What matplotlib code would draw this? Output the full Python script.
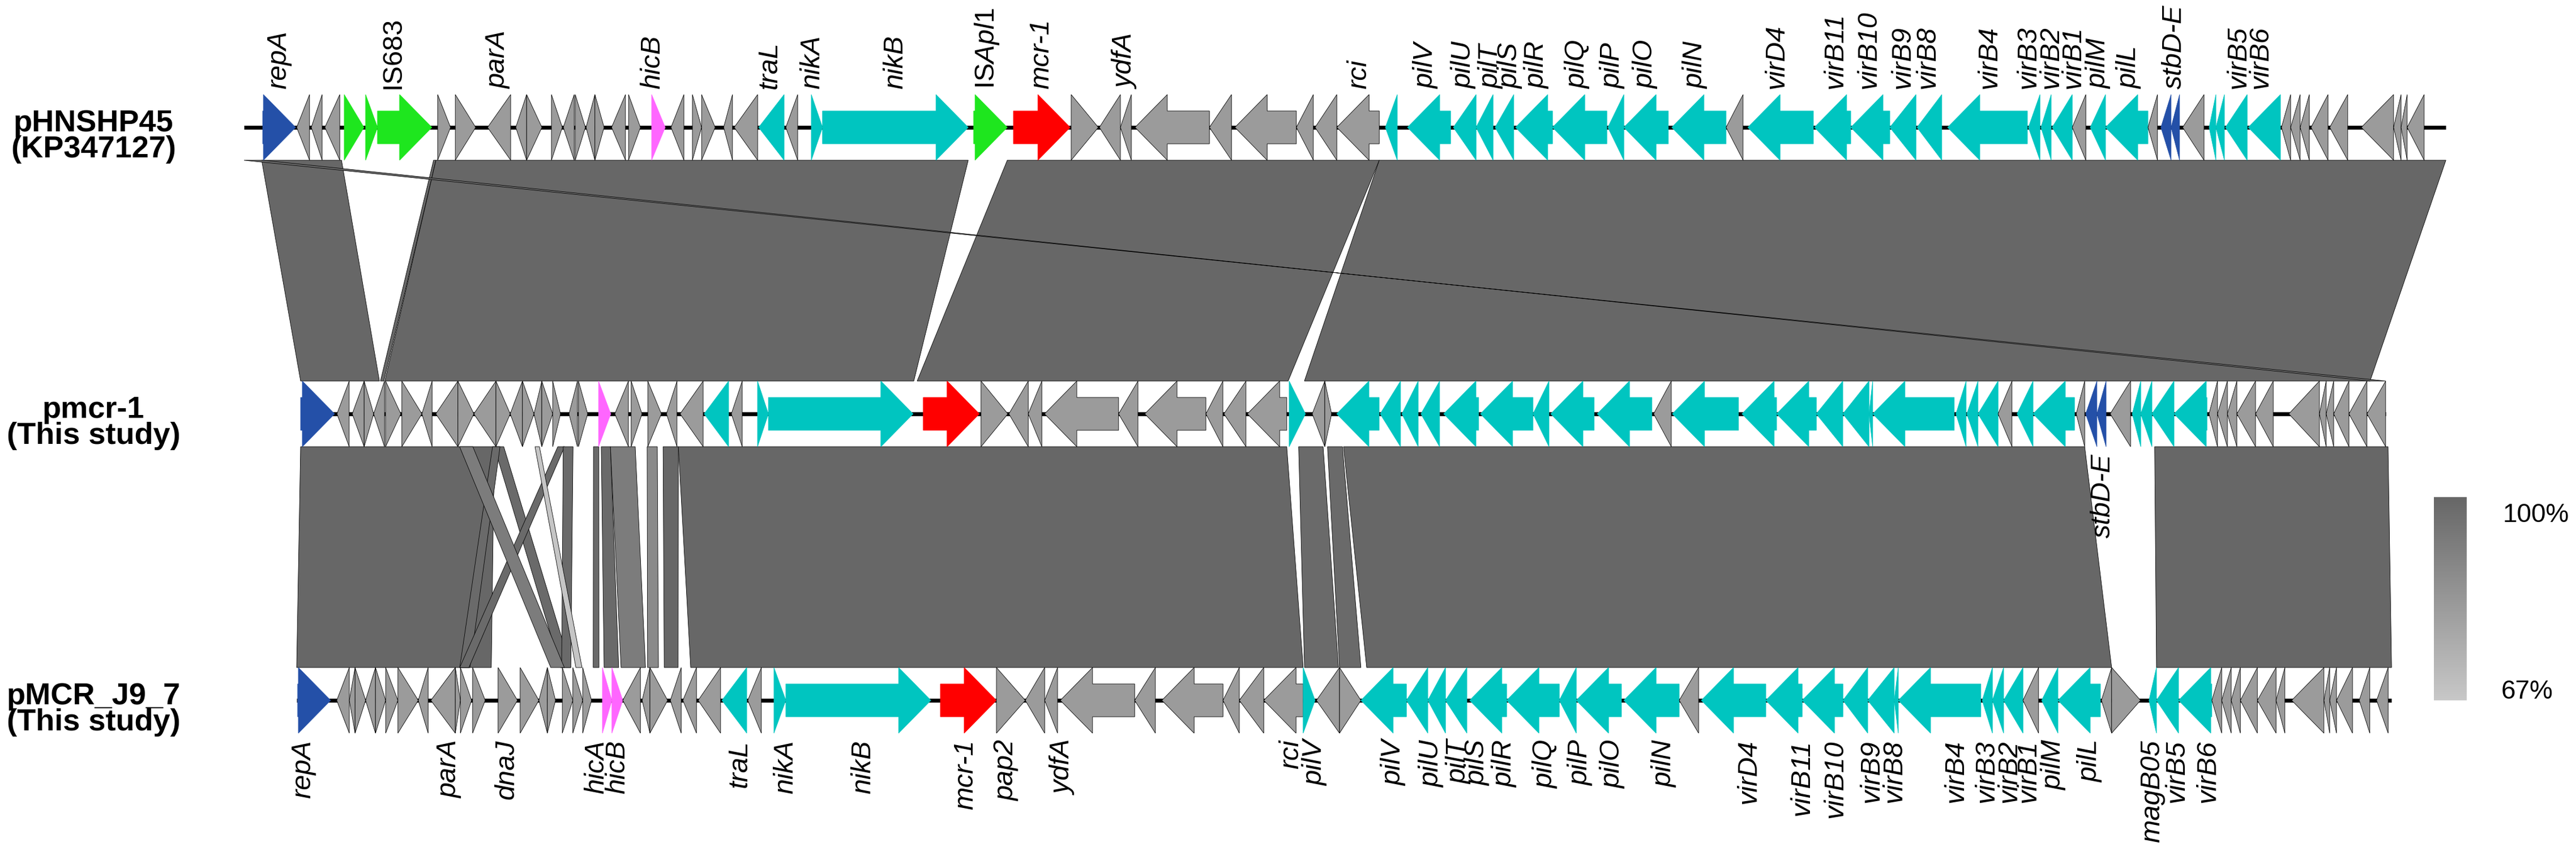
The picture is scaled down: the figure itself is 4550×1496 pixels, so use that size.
import matplotlib
matplotlib.use("Agg")
import matplotlib.pyplot as plt
from matplotlib.patches import Polygon
from matplotlib.colors import LinearSegmentedColormap
import numpy as np

plt.rcParams['font.family'] = ['Liberation Sans', 'DejaVu Sans']
plt.rcParams['mathtext.fontset'] = 'custom'
plt.rcParams['mathtext.rm'] = 'Liberation Sans'
plt.rcParams['mathtext.it'] = 'Liberation Sans:italic'

# ---- plasmid names ----
names = ['pHNSHP45\n(KP347127)', 'pmcr-1\n(This study)', 'pMCR_J9_7\n(This study)']
lengths_kb = [64.82, 61.38, 61.67]

# ---- genes (kb from start of each plasmid), strand, colour class ----
# colour classes: g grey, c cyan (transfer), b blue, G green (IS), p pink, r red (mcr-1)
top_start = [0.55, 1.55, 1.98, 2.38, 2.95, 3.58, 3.93, 5.70, 6.22, 7.17, 8.00, 8.32, 9.05, 9.40,
             9.75, 10.07, 10.33, 10.82, 11.32, 12.00, 12.57, 13.20, 13.47, 14.12, 14.43, 15.15,
             15.95, 16.70, 17.03, 21.48, 22.65, 24.35, 25.18, 25.80, 26.23, 28.42, 29.17, 30.98,
             31.53, 32.17, 33.60, 34.25, 35.60, 36.27, 36.83, 37.43, 38.52, 40.15, 40.62, 42.03,
             43.63, 44.27, 46.23, 47.30, 48.45, 49.25, 50.15, 52.53, 52.90, 53.23, 53.82, 54.35,
             54.80, 56.05, 56.43, 56.73, 57.07, 57.85, 58.05, 58.33, 59.00, 59.98, 60.25, 60.53,
             60.85, 61.40, 62.33, 63.28, 63.50, 63.68]
top_end = [1.52, 1.93, 2.30, 2.82, 3.53, 3.93, 5.53, 6.08, 6.82, 7.85, 8.32, 8.77, 9.37, 9.72,
           10.05, 10.33, 10.60, 11.23, 11.67, 12.40, 12.95, 13.47, 13.87, 14.38, 15.12, 15.90,
           16.30, 17.03, 21.32, 22.47, 24.32, 25.15, 25.80, 26.12, 28.42, 29.07, 30.98, 31.48,
           32.17, 33.42, 33.95, 35.52, 36.27, 36.77, 37.38, 38.52, 40.12, 40.62, 41.93, 43.63,
           44.13, 46.20, 47.30, 48.45, 49.22, 49.98, 52.50, 52.87, 53.20, 53.82, 54.22, 54.80,
           56.05, 56.33, 56.73, 56.98, 57.70, 58.05, 58.30, 58.97, 59.95, 60.25, 60.53, 60.80,
           61.35, 61.93, 63.28, 63.50, 63.68, 64.18]
top_strand = [1, -1, -1, -1, 1, 1, 1, 1, 1, -1, -1, 1, 1, -1,
              1, -1, 1, -1, 1, 1, -1, 1, 1, -1, -1, -1,
              -1, 1, 1, 1, 1, 1, -1, -1, -1, -1, -1, -1,
              -1, -1, -1, -1, -1, -1, -1, -1, -1, -1, -1, -1,
              -1, -1, -1, -1, -1, -1, -1, -1, -1, -1, -1, -1,
              -1, -1, -1, -1, -1, -1, -1, -1, -1, -1, -1, -1,
              -1, -1, -1, -1, -1, -1]
top_kind = list('bgggGGGgggggggggggg' 'pggggg' 'cg' 'cc' 'G' 'r' 'ggggggggg'
                'cccccccccc' 'g' 'ccccccccc' 'g' 'cc' 'g' 'bb' 'g' 'cccc' 'ggggggggg')

mid_start = [0.00, 1.07, 1.52, 1.87, 2.15, 2.50, 2.98, 3.57, 3.98, 4.63, 5.10, 5.75, 6.17, 6.53,
             6.87, 7.10, 7.42, 7.90, 8.18, 8.77, 9.25, 9.73, 10.22, 10.77, 11.17, 11.88, 12.68,
             13.45, 13.77, 18.33, 20.03, 20.85, 21.42, 21.90, 24.08, 24.85, 26.65, 27.18, 27.87,
             29.10, 29.78, 30.15, 30.50, 31.78, 32.42, 32.98, 33.65, 34.73, 36.28, 36.80, 38.17,
             39.83, 40.38, 42.43, 43.45, 44.62, 45.40, 46.17, 46.28, 48.73, 49.05, 49.38, 49.97,
             50.53, 51.00, 52.27, 52.55, 52.88, 53.27, 53.92, 54.17, 54.50, 55.15, 56.18, 56.43,
             56.72, 57.00, 57.55, 58.53, 59.43, 59.63, 59.85, 60.30, 60.83]
mid_end = [1.00, 1.43, 1.87, 2.15, 2.47, 2.95, 3.57, 3.87, 4.63, 5.10, 5.75, 6.17, 6.53, 6.87,
           7.10, 7.42, 7.65, 8.15, 8.45, 9.13, 9.65, 10.05, 10.62, 11.08, 11.85, 12.60, 13.00,
           13.77, 18.03, 19.98, 20.82, 21.42, 21.82, 24.08, 24.65, 26.65, 27.15, 27.83, 29.03,
           29.58, 30.15, 30.35, 31.75, 32.38, 32.90, 33.53, 34.68, 36.28, 36.75, 38.08, 39.78,
           40.35, 42.33, 43.45, 44.62, 45.40, 46.17, 46.28, 48.68, 49.03, 49.38, 49.97, 50.38,
           51.00, 52.22, 52.52, 52.88, 53.15, 53.87, 54.17, 54.50, 55.15, 56.12, 56.43, 56.72,
           57.00, 57.55, 58.07, 59.43, 59.63, 59.85, 60.30, 60.83, 61.38]
mid_strand = [1, -1, -1, 1, -1, 1, 1, -1, -1, 1, -1, 1, -1, 1,
              -1, 1, 1, -1, 1, 1, -1, 1, 1, -1, -1, -1, -1,
              1, 1, 1, 1, -1, -1, -1, -1, -1, -1, -1, -1,
              1, -1, 1, -1, -1, -1, -1, -1, -1, -1, -1, -1,
              -1, -1, -1, -1, -1, -1, -1, -1, -1, -1, -1, -1,
              -1, -1, -1, -1, -1, -1, -1, -1, -1, -1, -1, -1,
              -1, -1, -1, -1, -1, -1, -1, -1, -1]
mid_kind = list('bggggggggggggggggggpggggg' 'cg' 'cc' 'r' 'ggggggggg' 'c' 'gg'
                'ccccccccc' 'g' 'cccccccccc' 'g' 'cc' 'g' 'bb' 'g' 'cccc' 'ggggggggggg')

bot_start = [0.03, 1.18, 1.55, 1.72, 2.03, 2.32, 2.62, 2.98, 3.58, 3.95, 4.67, 4.82, 5.18, 5.93,
             6.58, 7.13, 7.38, 7.82, 8.13, 8.42, 9.00, 9.28, 9.60, 10.17, 10.40, 11.00, 11.37,
             11.82, 12.52, 13.28, 14.05, 14.40, 18.95, 20.60, 21.45, 22.02, 22.48, 24.67, 25.47,
             27.27, 27.75, 28.47, 29.63, 30.02, 30.70, 31.33, 32.67, 33.30, 33.82, 34.53, 35.62,
             37.17, 37.67, 39.07, 40.70, 41.35, 43.25, 44.32, 45.52, 46.25, 47.03, 47.15, 49.62,
             49.92, 50.25, 50.82, 51.37, 51.85, 53.13, 53.43, 54.53, 54.75, 55.40, 56.38, 56.67,
             56.95, 57.22, 57.72, 58.27, 58.73, 59.68, 59.85, 60.05, 60.72, 61.23]
bot_end = [1.00, 1.55, 1.72, 2.03, 2.32, 2.62, 2.98, 3.58, 3.87, 4.67, 4.82, 5.15, 5.55, 6.50,
           7.13, 7.38, 7.62, 8.13, 8.42, 8.68, 9.28, 9.60, 10.12, 10.40, 10.92, 11.32, 11.77,
           12.48, 13.25, 13.68, 14.40, 18.67, 20.60, 21.45, 22.02, 22.40, 24.67, 25.28, 27.27,
           27.75, 28.47, 29.63, 29.98, 30.70, 31.33, 32.67, 33.30, 33.82, 34.45, 35.62, 37.17,
           37.67, 39.00, 40.70, 41.27, 43.25, 44.32, 45.52, 46.25, 47.03, 47.15, 49.58, 49.92,
           50.25, 50.82, 51.28, 51.85, 53.10, 53.43, 54.28, 54.75, 55.40, 56.38, 56.67, 56.95,
           57.22, 57.72, 58.27, 58.53, 59.68, 59.85, 60.05, 60.52, 61.03, 61.57]
bot_strand = [1, -1, -1, 1, -1, 1, 1, 1, -1, -1, 1, 1, 1, 1,
              1, -1, 1, 1, 1, 1, 1, 1, -1, -1, 1, -1, -1,
              -1, -1, -1, 1, 1, 1, 1, -1, -1, -1, -1, -1,
              -1, -1, -1, 1, -1, 1, -1, -1, -1, -1, -1, -1,
              -1, -1, -1, -1, -1, -1, -1, -1, -1, -1, -1, -1,
              -1, -1, -1, -1, -1, -1, 1, -1, -1, -1, -1, -1,
              -1, -1, -1, -1, -1, -1, -1, -1, -1, -1]
bot_kind = list('bggggggggggggggggggg' 'pp' 'gggggg' 'cg' 'cc' 'r' 'ggggggggg' 'c' 'gg'
                'ccccccccc' 'g' 'cccccccccc' 'g' 'cc' 'gg' 'ccc' 'gggggggggggg')

# ---- gene labels (kb position on each plasmid) ----
top_lab = ['repA', 'IS683', 'parA', 'hicB', 'traL', 'nikA', 'nikB', 'ISApl1', 'mcr-1', 'ydfA',
           'rci', 'pilV', 'pilU', 'pilT', 'pilS', 'pilR', 'pilQ', 'pilP', 'pilO', 'pilN',
           'virD4', 'virB11', 'virB10', 'virB9', 'virB8', 'virB4', 'virB3', 'virB2', 'virB1',
           'pilM', 'pilL', 'stbD-E', 'virB5', 'virB6']
top_lab_kb = [1.03, 4.38, 7.48, 12.03, 15.47, 16.73, 19.17, 21.88, 23.48, 25.95,
              32.82, 34.80, 35.92, 36.72, 37.28, 38.07, 39.27, 40.30, 41.27, 42.73,
              45.12, 46.85, 47.83, 48.83, 49.57, 51.38, 52.53, 53.20, 53.85,
              54.60, 55.50, 56.82, 58.72, 59.37]
bot_lab = ['repA', 'parA', 'dnaJ', 'hicA', 'hicB', 'traL', 'nikA', 'nikB', 'mcr-1', 'pap2',
           'ydfA', 'rci', 'pilV', 'pilV', 'pilU', 'pilT', 'pilS', 'pilR', 'pilQ', 'pilP',
           'pilO', 'pilN', 'virD4', 'virB11', 'virB10', 'virB9', 'virB8', 'virB4', 'virB3',
           'virB2', 'virB1', 'pilM', 'pilL', 'magB05', 'virB5', 'virB6']
bot_lab_kb = [0.20, 4.50, 6.18, 8.82, 9.45, 13.03, 14.40, 16.67, 19.70, 20.90,
              22.57, 29.27, 29.98, 32.30, 33.42, 34.22, 34.77, 35.57, 36.77, 37.80,
              38.75, 40.27, 42.75, 44.32, 45.30, 46.37, 47.03, 48.85, 49.75,
              50.42, 50.98, 51.73, 52.80, 54.62, 55.35, 56.27]
mid_lab = ['stbD-E']
mid_lab_kb = [53.05]

# ---- BLAST hits: (upper start, upper end), (lower start, lower end), identity % ----
hit12_up = [(0.52, 2.87), (5.58, 5.65), (5.65, 21.32), (22.47, 33.42), (33.42, 64.82), (0.00, 0.55)]
hit12_lo = [(0.00, 2.32), (2.35, 2.45), (2.48, 18.05), (18.15, 29.07), (29.55, 60.92), (61.38, 60.92)]
hit12_id = [100, 100, 100, 100, 100, 99]

hit23_up = [(0.00, 5.70), (5.70, 5.98), (5.65, 5.87), (7.57, 7.77), (7.73, 8.02), (4.68, 5.07),
            (6.90, 7.03), (8.62, 8.78), (8.85, 9.12), (9.12, 9.85), (10.20, 10.50),
            (10.67, 11.12), (11.12, 29.03), (29.38, 30.10), (30.23, 30.67), (30.70, 52.52),
            (54.58, 61.45)]
hit23_lo = [(0.00, 5.73), (7.77, 8.07), (4.80, 5.10), (4.80, 5.07), (7.80, 8.07), (7.48, 7.88),
            (8.22, 8.40), (8.73, 8.90), (9.05, 9.48), (9.55, 10.27), (10.33, 10.65),
            (10.82, 11.23), (11.60, 29.63), (29.67, 30.67), (30.70, 31.33), (31.50, 53.43),
            (54.75, 61.67)]
hit23_id = [100, 99, 99, 99, 99, 93, 68, 99, 99, 93, 88, 100, 100, 99, 99, 100, 100]

# ---- layout ----
PX_KB = 60.0
track_x0 = [431, 531, 524]
track_y = [225, 731, 1237]
H_FULL = 58
H_SHAFT = 29
HEAD = 57

colors = {'g': '#9b9b9b', 'c': '#00c5c0', 'b': '#2450a8', 'G': '#1ee61e',
          'p': '#ff66ff', 'r': '#ff0000'}
id_cmap = LinearSegmentedColormap.from_list('ident', ['#c8c8c8', '#676767'])


def kb2x(track, kb):
    return track_x0[track] + kb * PX_KB


def id_color(v):
    return id_cmap((v - 67) / 33.0)


def gene_poly(x1, x2, strand, yc):
    L = x2 - x1
    if L <= HEAD:
        if strand > 0:
            return [(x1, yc - H_FULL), (x2, yc), (x1, yc + H_FULL)]
        return [(x2, yc - H_FULL), (x1, yc), (x2, yc + H_FULL)]
    if strand > 0:
        b = x2 - HEAD
        return [(x1, yc - H_SHAFT), (b, yc - H_SHAFT), (b, yc - H_FULL), (x2, yc),
                (b, yc + H_FULL), (b, yc + H_SHAFT), (x1, yc + H_SHAFT)]
    b = x1 + HEAD
    return [(x2, yc - H_SHAFT), (b, yc - H_SHAFT), (b, yc - H_FULL), (x1, yc),
            (b, yc + H_FULL), (b, yc + H_SHAFT), (x2, yc + H_SHAFT)]


fig = plt.figure(figsize=(45.5, 14.96), dpi=100)
ax = fig.add_axes([0, 0, 1, 1])
ax.set_xlim(0, 4550)
ax.set_ylim(1496, 0)
ax.axis('off')

# homology blocks
for t, (ups, los, ids) in enumerate([(hit12_up, hit12_lo, hit12_id), (hit23_up, hit23_lo, hit23_id)]):
    y_up = track_y[t] + H_FULL
    y_lo = track_y[t + 1] - H_FULL
    for (u1, u2), (l1, l2), v in zip(ups, los, ids):
        pts = [(kb2x(t, u1), y_up), (kb2x(t, u2), y_up),
               (kb2x(t + 1, l2), y_lo), (kb2x(t + 1, l1), y_lo)]
        ax.add_patch(Polygon(pts, closed=True, facecolor=id_color(v), edgecolor='black',
                             linewidth=0.6, zorder=1))

# backbones and genes
tracks = [(top_start, top_end, top_strand, top_kind),
          (mid_start, mid_end, mid_strand, mid_kind),
          (bot_start, bot_end, bot_strand, bot_kind)]
for t, (st, en, sd, kd) in enumerate(tracks):
    yc = track_y[t]
    ax.plot([kb2x(t, 0), kb2x(t, lengths_kb[t])], [yc, yc], color='black', lw=5,
            solid_capstyle='butt', zorder=2)
    for s, e, d, k in zip(st, en, sd, kd):
        ec = 'black' if k == 'g' else colors[k]
        ax.add_patch(Polygon(gene_poly(kb2x(t, s), kb2x(t, e), d, yc), closed=True,
                             facecolor=colors[k], edgecolor=ec, linewidth=0.6, zorder=3))
    ax.text(165, yc + 16, names[t], ha='center', va='center', fontsize=39,
            fontweight='bold', linespacing=0.9, zorder=4)


def gene_label(lab):
    if lab == 'IS683':
        return lab, 'normal'
    if lab == 'ISApl1':
        return r'IS$\mathit{Apl1}$', 'normal'
    return lab, 'italic'


for lab, kb in zip(top_lab, top_lab_kb):
    txt, sty = gene_label(lab)
    ax.text(kb2x(0, kb), track_y[0] - H_FULL - 10, txt, rotation=90, ha='center', va='bottom',
            fontsize=35, fontstyle=sty)
for lab, kb in zip(bot_lab, bot_lab_kb):
    txt, sty = gene_label(lab)
    ax.text(kb2x(2, kb), track_y[2] + H_FULL + 12, txt, rotation=90, ha='center', va='top',
            fontsize=35, fontstyle=sty)
for lab, kb in zip(mid_lab, mid_lab_kb):
    ax.text(kb2x(1, kb), track_y[1] + H_FULL + 12, lab, rotation=90, ha='center', va='top',
            fontsize=35, fontstyle='italic', zorder=4)

# identity scale bar
grad = np.linspace(100, 67, 256).reshape(-1, 1)
ax.imshow(grad, cmap=id_cmap, vmin=67, vmax=100, aspect='auto',
          extent=[4299, 4357, 1237, 878], zorder=2)
ax.text(4420, 910, '100%', ha='left', va='center', fontsize=33)
ax.text(4418, 1222, '67%', ha='left', va='center', fontsize=33)

fig.savefig('out.png', dpi=100, facecolor='white')
